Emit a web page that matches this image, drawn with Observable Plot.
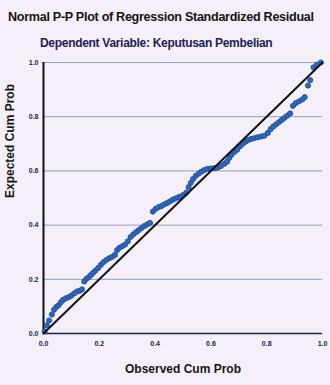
<!DOCTYPE html>
<html><head><meta charset="utf-8">
<script src="https://cdn.jsdelivr.net/npm/d3@7"></script>
<script src="https://cdn.jsdelivr.net/npm/@observablehq/plot@0.6"></script>
<style>
html,body{margin:0;padding:0;background:#f4eff8;width:330px;height:385px;overflow:hidden;font-family:"Liberation Sans",Arial,sans-serif;}
#title{position:absolute;left:8px;top:10px;font-size:12.6px;font-weight:bold;color:#141414;letter-spacing:-0.3px;}
#subtitle{position:absolute;left:40px;top:36px;font-size:12px;font-weight:bold;color:#1c2358;letter-spacing:-0.3px;}
#chart{position:absolute;left:0;top:55px;}
</style></head><body>
<div id="title">Normal P-P Plot of Regression Standardized Residual</div>
<div id="subtitle">Dependent Variable: Keputusan Pembelian</div>
<div id="chart"></div>
<script>
const observed = [0.004,0.012,0.020,0.030,0.038,0.046,0.054,0.062,0.070,0.080,0.090,0.100,0.110,0.120,0.130,0.138,0.146,0.154,0.162,0.170,0.178,0.186,0.196,0.206,0.216,0.226,0.236,0.246,0.256,0.264,0.272,0.282,0.292,0.302,0.312,0.322,0.332,0.342,0.352,0.362,0.372,0.382,0.392,0.402,0.412,0.422,0.432,0.442,0.452,0.462,0.472,0.482,0.492,0.502,0.512,0.520,0.528,0.536,0.546,0.556,0.566,0.576,0.588,0.600,0.612,0.624,0.636,0.648,0.658,0.666,0.674,0.684,0.694,0.704,0.714,0.724,0.734,0.744,0.756,0.768,0.780,0.792,0.804,0.814,0.824,0.834,0.844,0.854,0.864,0.874,0.884,0.894,0.904,0.916,0.928,0.936,0.948,0.956,0.968,0.980,0.994];
const expected = [0.008,0.030,0.048,0.070,0.088,0.098,0.104,0.115,0.124,0.130,0.134,0.140,0.148,0.155,0.158,0.163,0.192,0.202,0.208,0.216,0.224,0.232,0.242,0.254,0.264,0.272,0.278,0.283,0.290,0.308,0.316,0.322,0.328,0.340,0.356,0.366,0.374,0.382,0.390,0.397,0.403,0.408,0.450,0.460,0.466,0.470,0.476,0.481,0.487,0.493,0.498,0.502,0.506,0.512,0.520,0.540,0.556,0.570,0.582,0.590,0.597,0.603,0.608,0.609,0.610,0.612,0.618,0.626,0.634,0.648,0.660,0.670,0.678,0.690,0.700,0.708,0.714,0.718,0.721,0.724,0.727,0.730,0.740,0.754,0.764,0.772,0.780,0.788,0.796,0.804,0.812,0.840,0.850,0.857,0.864,0.872,0.915,0.935,0.982,0.992,1.000];
const tickValues = [0, 0.2, 0.4, 0.6, 0.8, 1.0];
const refLine = [0, 1];
const xTitle = "Observed Cum Prob";
const yTitle = "Expected Cum Prob";

const points = observed.map((o, i) => ({o, e: expected[i]}));

const chart = Plot.plot({
  width: 330, height: 330,
  marginTop: 7, marginLeft: 43, marginRight: 8, marginBottom: 52,
  x: {domain: [0, 1]},
  y: {domain: [0, 1]},
  style: {background: "transparent", fontFamily: "Liberation Sans, Arial, sans-serif", color: "#1c2358"},
  marks: [
    Plot.ruleY(tickValues.slice(1), {stroke: "#8a92c4", strokeWidth: 0.9}),
    Plot.axisX({ticks: tickValues, tickFormat: d3.format(".1f"), tickSize: 0, tickPadding: 8, label: null, fontSize: 7, fontWeight: "bold"}),
    Plot.axisY({ticks: tickValues, tickFormat: d3.format(".1f"), tickSize: 0, tickPadding: 5, label: null, fontSize: 7, fontWeight: "bold"}),
    Plot.ruleY([0], {stroke: "#1a2058", strokeWidth: 1.5}),
    Plot.ruleX([0], {stroke: "#111", strokeWidth: 2}),
    Plot.dot(points, {x: "o", y: "e", r: 2.6, fill: "#2f68b8", stroke: "#1d4c9a", strokeWidth: 0.8}),
    Plot.line(refLine.map(v => ({v})), {x: "v", y: "v", stroke: "#111", strokeWidth: 2}),
    Plot.text([xTitle], {frameAnchor: "bottom", dy: 39, fontSize: 12, fontWeight: "bold", fill: "#161616"}),
    Plot.text([yTitle], {frameAnchor: "left", rotate: -90, dx: -33, fontSize: 12, fontWeight: "bold", fill: "#161616"})
  ]
});
document.getElementById("chart").appendChild(chart);
</script>
</body></html>
